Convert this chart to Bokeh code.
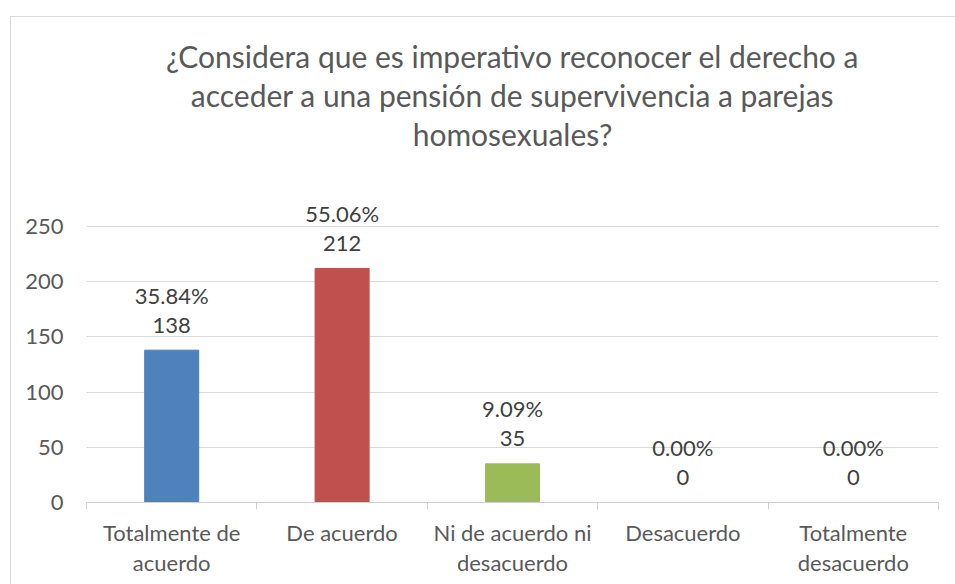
from bokeh.plotting import figure
from bokeh.models import FixedTicker, Label, ColumnDataSource, Range1d, InlineStyleSheet
from bokeh.core.properties import value
from bokeh.embed import file_html
from bokeh.resources import INLINE

categories = ["Totalmente de\nacuerdo", "De acuerdo", "Ni de acuerdo ni\ndesacuerdo", "Desacuerdo", "Totalmente\ndesacuerdo"]
counts = [138, 212, 35, 0, 0]
percents = ["35.84%", "55.06%", "9.09%", "0.00%", "0.00%"]
colors = ["#4F81BD", "#C0504D", "#9BBB59", "#8064A2", "#4BACC6"]
y_ticks = [0, 50, 100, 150, 200, 250]
title_lines = ["¿Considera que es imperativo reconocer el derecho a",
               "acceder a una pensión de supervivencia a parejas",
               "homosexuales?"]

FONT = "Lato"
xs = [i + 0.5 for i in range(len(categories))]
src = ColumnDataSource(dict(x=xs, count=counts, cnt_txt=[str(c) for c in counts],
                            pct=percents, color=colors))

PX_PER_UNIT = 276 / 250.0
FRAME_H = 502
p = figure(width=955, height=584, output_backend="svg", toolbar_location=None,
           x_range=Range1d(0, len(categories)), y_range=Range1d(0, FRAME_H / PX_PER_UNIT),
           min_border_left=86, min_border_right=17, min_border_top=0, min_border_bottom=82)
p.outline_line_color = None
p.background_fill_color = "white"
p.border_fill_color = "white"

p.vbar(x="x", top="count", width=0.317, color="color", source=src)
p.text(x="x", y="count", text="cnt_txt", source=src, y_offset=-25,
       text_align="center", text_baseline="middle", text_font=value(FONT),
       text_font_size="22px", text_color="#404040")
p.text(x="x", y="count", text="pct", source=src, y_offset=-55,
       text_align="center", text_baseline="middle", text_font=value(FONT),
       text_font_size="22px", text_color="#404040")

# y axis
p.yaxis.ticker = FixedTicker(ticks=y_ticks)
p.yaxis.axis_line_color = None
p.yaxis.major_tick_line_color = None
p.yaxis.minor_tick_line_color = None
p.yaxis.major_label_text_font = FONT
p.yaxis.major_label_text_font_size = "22px"
p.yaxis.major_label_text_color = "#595959"
p.yaxis.major_label_standoff = 17
p.ygrid.ticker = FixedTicker(ticks=y_ticks)
p.ygrid.grid_line_color = "#D9D9D9"
p.xgrid.grid_line_color = None

# x axis
p.xaxis.ticker = FixedTicker(ticks=xs, minor_ticks=list(range(len(categories) + 1)))
p.xaxis.major_label_overrides = {x: c for x, c in zip(xs, categories)}
p.xaxis.axis_line_color = "#D0D0D0"
p.xaxis.major_tick_line_color = None
p.xaxis.minor_tick_line_color = "#D0D0D0"
p.xaxis.minor_tick_out = 7
p.xaxis.minor_tick_in = 0
p.xaxis.major_label_text_font = FONT
p.xaxis.major_label_text_font_size = "22px"
p.xaxis.major_label_text_color = "#595959"
p.xaxis.major_label_text_line_height = 1.14
p.xaxis.major_label_standoff = 9

# title lines, in the empty upper part of the frame
for i, t in enumerate(title_lines):
    p.add_layout(Label(x=len(categories) / 2, y=(FRAME_H - 55 - 39 * i) / PX_PER_UNIT, text=t,
                       text_align="center", text_baseline="middle", text_font=FONT,
                       text_font_size="30px", text_color="#595959"))

# chart border (top and left edges visible in the window)
p.stylesheets = [InlineStyleSheet(css=
    ":host{position:relative;}"
    ":host::after{content:'';position:absolute;left:10px;top:16px;right:0;bottom:0;"
    "border-top:1px solid #D9D9D9;border-left:1px solid #D9D9D9;pointer-events:none;z-index:10;}")]

open("out.html", "w").write(file_html(p, INLINE))
